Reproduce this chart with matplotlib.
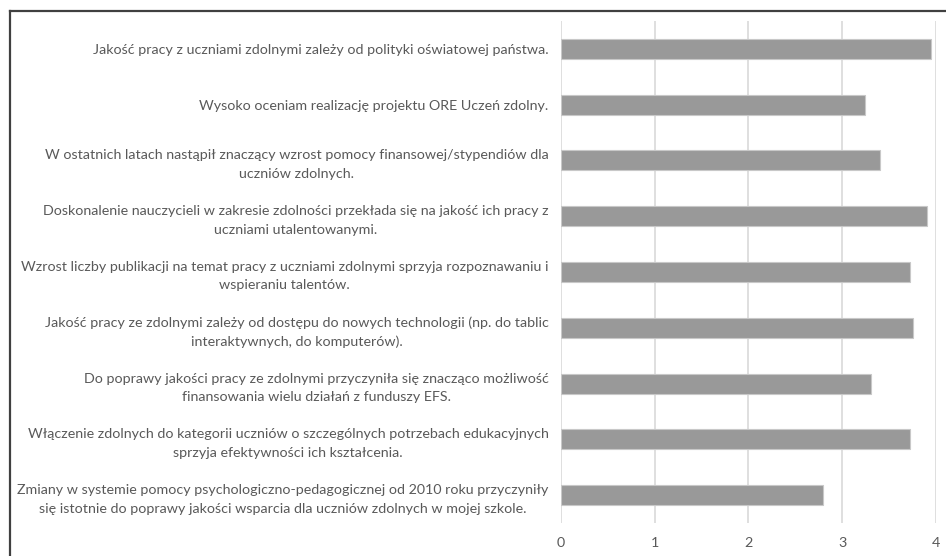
import matplotlib
matplotlib.use("Agg")
import matplotlib.pyplot as plt
from matplotlib.lines import Line2D

labels = [
    "Jakość pracy z uczniami zdolnymi zależy od polityki oświatowej państwa.",
    "Wysoko oceniam realizację projektu ORE Uczeń zdolny.",
    "W ostatnich latach nastąpił znaczący wzrost pomocy finansowej/stypendiów dla\nuczniów zdolnych.",
    "Doskonalenie nauczycieli w zakresie zdolności przekłada się na jakość ich pracy z\nuczniami utalentowanymi.",
    "Wzrost liczby publikacji na temat pracy z uczniami zdolnymi sprzyja rozpoznawaniu i\nwspieraniu talentów.",
    "Jakość pracy ze zdolnymi zależy od dostępu do nowych technologii (np. do tablic\ninteraktywnych, do komputerów).",
    "Do poprawy jakości pracy ze zdolnymi przyczyniła się znacząco możliwość\nfinansowania wielu działań z funduszy EFS.",
    "Włączenie zdolnych do kategorii uczniów o szczególnych potrzebach edukacyjnych\nsprzyja efektywności ich kształcenia.",
    "Zmiany w systemie pomocy psychologiczno-pedagogicznej od 2010 roku przyczyniły\nsię istotnie do poprawy jakości wsparcia dla uczniów zdolnych w mojej szkole.",
]
values = [3.95, 3.24, 3.40, 3.90, 3.72, 3.75, 3.31, 3.72, 2.79]
xticks = [0, 1, 2, 3, 4]

plt.rcParams['font.family'] = ['Lato', 'DejaVu Sans']
text_color = "#595959"

fig = plt.figure(figsize=(9.46, 5.56), dpi=100)
ax = fig.add_axes([0.593, 0.0594, 0.3964, 0.9028])

pos = list(range(len(labels)))
ax.barh(pos, values, height=0.36, color="#999999", edgecolor="#c8c8c8",
        linewidth=0.8, zorder=3)
ax.set_ylim(len(labels) - 0.5, -0.5)
ax.set_xlim(0, 4)
ax.set_xticks(xticks)
ax.set_yticks(pos)
ax.set_yticklabels(labels, multialignment="center", linespacing=1.65)
ax.grid(axis="x", color="#d9d9d9", linewidth=1.2, zorder=0)
ax.tick_params(axis="both", length=0, labelsize=10.3, colors=text_color)
ax.tick_params(axis="y", pad=9)
ax.tick_params(axis="x", pad=10)
for s in ax.spines.values():
    s.set_visible(False)

# outer frame (only top and left visible in the crop)
fig.add_artist(Line2D([9.5 / 946, 1.01], [1 - 11 / 556, 1 - 11 / 556],
                      transform=fig.transFigure, color="#404040", linewidth=1.6))
fig.add_artist(Line2D([9.5 / 946, 9.5 / 946], [-0.01, 1 - 11 / 556],
                      transform=fig.transFigure, color="#404040", linewidth=1.6))

fig.savefig("out.png", dpi=100)
